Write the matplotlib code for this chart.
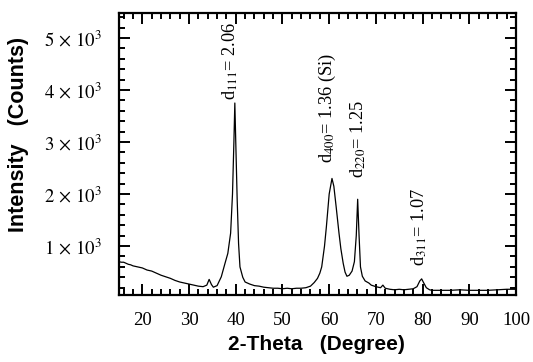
import matplotlib
matplotlib.use("Agg")
import matplotlib.pyplot as plt
from matplotlib.ticker import MultipleLocator, FixedLocator, FixedFormatter

plt.rcParams['mathtext.fontset'] = 'stix'
plt.rcParams['font.family'] = ['Liberation Serif', 'DejaVu Serif']

# ---- data ----
two_theta = [15.0, 15.5, 16.0, 16.5, 17.0, 17.5, 18.0, 18.5, 19.0, 19.5, 20.0,
             21, 22, 23, 24, 25, 26, 27, 28, 29, 30, 31, 32, 33,
             33.8, 34.3, 34.8, 35.2, 36.0, 36.9, 37.7, 38.3, 38.9, 39.3, 39.6,
             39.8, 40.0, 40.3, 40.6, 40.9, 41.5, 42, 43, 44, 45, 46, 47, 48, 49,
             50, 51, 52, 53, 54, 55, 56, 56.8, 57.5, 58.0, 58.4, 59.0, 59.4, 60.0,
             60.6, 61.0, 61.5, 62.1, 62.5, 63.0, 63.4, 63.8, 64.3, 64.9, 65.4,
             65.8, 66.1, 66.4, 66.7, 67.1, 67.7, 68.5, 69, 70, 71, 71.5, 72, 73,
             74, 75, 76, 77, 78, 78.8, 79.4, 79.8, 80.2, 80.8, 81.5, 82, 84, 86,
             88, 90, 92, 94, 96, 98, 100]
intensity = [700, 690, 690, 670, 650, 640, 620, 610, 600, 590, 580,
             540, 520, 480, 440, 410, 380, 340, 310, 290, 270, 250, 230, 220,
             250, 360, 260, 210, 240, 410, 670, 860, 1250, 2000, 3000,
             3750, 3000, 1900, 1050, 600, 400, 310, 270, 240, 230, 210, 200, 190, 190,
             180, 190, 180, 190, 190, 200, 230, 300, 380, 480, 600, 1000, 1370, 2000,
             2300, 2150, 1750, 1250, 950, 670, 500, 420, 440, 520, 700,
             1200, 1900, 1200, 600, 420, 330, 290, 250, 220, 200, 250, 190, 170,
             160, 170, 160, 170, 180, 220, 330, 370, 300, 200, 160, 150, 150, 150,
             160, 150, 150, 150, 160, 170, 170]

peak_labels = [r'd$_{111}$= 2.06', r'd$_{400}$= 1.36 (Si)', r'd$_{220}$= 1.25', r'd$_{311}$= 1.07']
peak_label_x = [38.8, 59.6, 66.3, 79.4]
peak_label_y = [3800, 2600, 2300, 620]

xtick_values = [20, 30, 40, 50, 60, 70, 80, 90, 100]
ytick_values = [1000, 2000, 3000, 4000, 5000]
ytick_labels = [r'$1\,\times\,10^{3}$', r'$2\,\times\,10^{3}$', r'$3\,\times\,10^{3}$',
                r'$4\,\times\,10^{3}$', r'$5\,\times\,10^{3}$']

fig = plt.figure(figsize=(5.33, 3.62), dpi=100)
ax = fig.add_axes([119/533, 1-295/362, (516-119)/533, (295-13)/362])

ax.plot(two_theta, intensity, color='black', lw=0.9)

ax.set_xlim(15, 100)
ax.set_ylim(60, 5480)

ax.xaxis.set_major_locator(FixedLocator(xtick_values))
ax.xaxis.set_minor_locator(MultipleLocator(2))
ax.yaxis.set_major_locator(FixedLocator(ytick_values))
ax.yaxis.set_major_formatter(FixedFormatter(ytick_labels))
ax.yaxis.set_minor_locator(MultipleLocator(200))

ax.tick_params(which='both', direction='in', top=True, right=True, width=1.4, color='black')
ax.tick_params(which='major', length=8)
ax.tick_params(which='minor', length=4)
ax.tick_params(axis='x', which='major', labelsize=13.5, pad=12)
ax.tick_params(axis='y', which='major', labelsize=13.5, pad=12)

for sp in ax.spines.values():
    sp.set_linewidth(1.6)

for lab, lx, ly in zip(peak_labels, peak_label_x, peak_label_y):
    ax.text(lx, ly, lab, rotation=90, ha='center', va='bottom', fontsize=13.2)

fig.text(316/533, 1-345/362, '2-Theta   (Degree)', ha='center', va='center',
         fontsize=15, fontweight='bold', family=['Liberation Sans', 'DejaVu Sans'])
fig.text(19/533, 1-134/362, 'Intensity   (Counts)', ha='center', va='center',
         rotation=90, fontsize=15.5, fontweight='bold', family=['Liberation Sans', 'DejaVu Sans'])

fig.savefig('out.png', dpi=100)
